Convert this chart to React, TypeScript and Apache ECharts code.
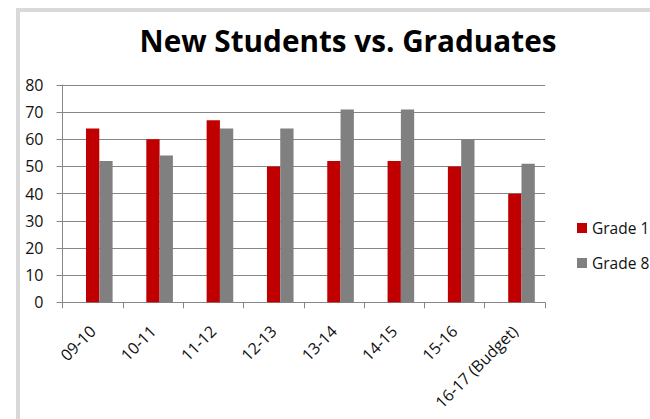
import React, { useEffect, useRef } from "react";
import * as echarts from "echarts";

const categories = ["09-10", "10-11", "11-12", "12-13", "13-14", "14-15", "15-16", "16-17 (Budget)"];
const grade1 = [64, 60, 67, 50, 52, 52, 50, 40];
const grade8 = [52, 54, 64, 64, 71, 71, 60, 51];
const emptySeries = categories.map(() => "-");
const yTicks = { min: 0, max: 80, interval: 10 };

export default function App() {
  const ref = useRef<HTMLDivElement>(null);
  useEffect(() => {
    if (!ref.current) return;
    const chart = echarts.init(ref.current, undefined, { renderer: "svg" });
    const axisGray = "#868686";
    const labelFont = { fontFamily: "Open Sans", fontSize: 16, color: "#111111" };
    chart.setOption({
      animation: false,
      backgroundColor: "#ffffff",
      title: {
        text: "New Students vs. Graduates",
        left: 343,
        top: 20,
        textAlign: "center",
        textStyle: { fontFamily: "Open Sans", fontWeight: "bold", fontSize: 29.7, color: "#000000" },
      },
      graphic: [
        {
          type: "rect",
          shape: { x: 18, y: 10, width: 800, height: 600 },
          style: { fill: "none", stroke: "#d9d9d9", lineWidth: 4 },
          silent: true,
          z: -1,
        },
      ],
      legend: {
        orient: "vertical",
        left: 577,
        top: 220,
        padding: 0,
        itemWidth: 10,
        itemHeight: 10,
        itemGap: 19,
        icon: "rect",
        data: ["Grade 1", "Grade 8"],
        textStyle: { ...labelFont, fontSize: 15.5 },
      },
      grid: { left: 62.5, right: 105, top: 85, bottom: 116.7, containLabel: false },
      xAxis: {
        type: "category",
        data: categories,
        boundaryGap: true,
        axisLine: { lineStyle: { color: axisGray, width: 1 } },
        axisTick: { show: true, length: 6, lineStyle: { color: axisGray } },
        axisLabel: { ...labelFont, rotate: 45, margin: 26, interval: 0 },
      },
      yAxis: {
        type: "value",
        min: yTicks.min,
        max: yTicks.max,
        interval: yTicks.interval,
        axisLine: { show: true, lineStyle: { color: axisGray, width: 1 } },
        axisTick: { show: true, length: 6, lineStyle: { color: axisGray } },
        axisLabel: { ...labelFont, margin: 19 },
        splitLine: { lineStyle: { color: axisGray, width: 1 } },
      },
      series: [
        { name: "_spacer", type: "bar", data: emptySeries, barWidth: 13.3, barGap: "0%", itemStyle: { color: "transparent" } },
        { name: "Grade 1", type: "bar", data: grade1, barWidth: 13.3, barGap: "0%", itemStyle: { color: "#c00000" } },
        { name: "Grade 8", type: "bar", data: grade8, barWidth: 13.3, barGap: "0%", itemStyle: { color: "#808080" } },
      ],
    });
    return () => chart.dispose();
  }, []);
  return (
    <div
      ref={ref}
      style={{ position: "absolute", left: 0, top: 0, width: 650, height: 419 }}
    />
  );
}
